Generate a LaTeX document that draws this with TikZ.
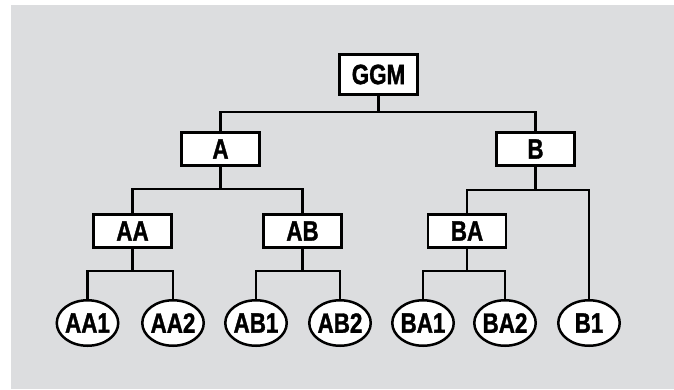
\documentclass[tikz,border=0pt]{standalone}
\usepackage{fontspec}
\setmainfont{Liberation Sans}[FakeStretch=0.8,BoldFeatures={FakeBold=1.2}]
\usetikzlibrary{shapes.geometric}
\definecolor{bggray}{HTML}{DCDDDF}
\begin{document}
\begin{tikzpicture}[x=1pt,y=-1pt,
  lbl/.style={font=\fontsize{28}{32}\selectfont\bfseries},
  boxnode/.style={lbl,draw=black,fill=white,line width=2.7pt,rectangle,
    minimum width=78pt,minimum height=33pt,inner sep=0pt},
  leafnode/.style={lbl,draw=black,fill=white,line width=2.5pt,ellipse,
    minimum width=61.5pt,minimum height=45.5pt,inner xsep=-6pt,inner ysep=0pt},
  conn/.style={line width=2.7pt,draw=black}]
\useasboundingbox (0,0) rectangle (674,389);
\fill[bggray] (11,5) rectangle (674,389);
\coordinate (bar0) at (0,112);
\coordinate (bar1) at (0,189);
\coordinate (bar2) at (0,190);
\coordinate (bar3) at (0,271);
\node[boxnode,minimum height=40pt] (GGM) at (378.5,74.5) {GGM};
\node[boxnode] (A) at (220.5,149) {A};
\node[boxnode] (B) at (535.5,149) {B};
\node[boxnode] (AA) at (132.5,231) {AA};
\node[boxnode] (AB) at (302.5,231) {AB};
\node[boxnode] (BA) at (467,231) {BA};
\node[leafnode] (AA1) at (87.5,323) {AA1};
\node[leafnode] (AA2) at (173,323) {AA2};
\node[leafnode] (AB1) at (256,323) {AB1};
\node[leafnode] (AB2) at (340,323) {AB2};
\node[leafnode] (BA1) at (423,323) {BA1};
\node[leafnode] (BA2) at (505,323) {BA2};
\node[leafnode] (B1) at (589,323) {B1};
\draw[conn] (A.north) |- (GGM.south |- bar0) -| (B.north);
\draw[conn] (GGM.south) -- (GGM.south |- bar0);
\draw[conn] (AA.north) |- (A.south |- bar1) -| (AB.north);
\draw[conn] (A.south) -- (A.south |- bar1);
\draw[conn] (BA.north) |- (B.south |- bar2) -| (B1.north);
\draw[conn] (B.south) -- (B.south |- bar2);
\draw[conn] (AA1.north) |- (AA.south |- bar3) -| (AA2.north);
\draw[conn] (AA.south) -- (AA.south |- bar3);
\draw[conn] (AB1.north) |- (AB.south |- bar3) -| (AB2.north);
\draw[conn] (AB.south) -- (AB.south |- bar3);
\draw[conn] (BA1.north) |- (BA.south |- bar3) -| (BA2.north);
\draw[conn] (BA.south) -- (BA.south |- bar3);
\end{tikzpicture}
\end{document}
